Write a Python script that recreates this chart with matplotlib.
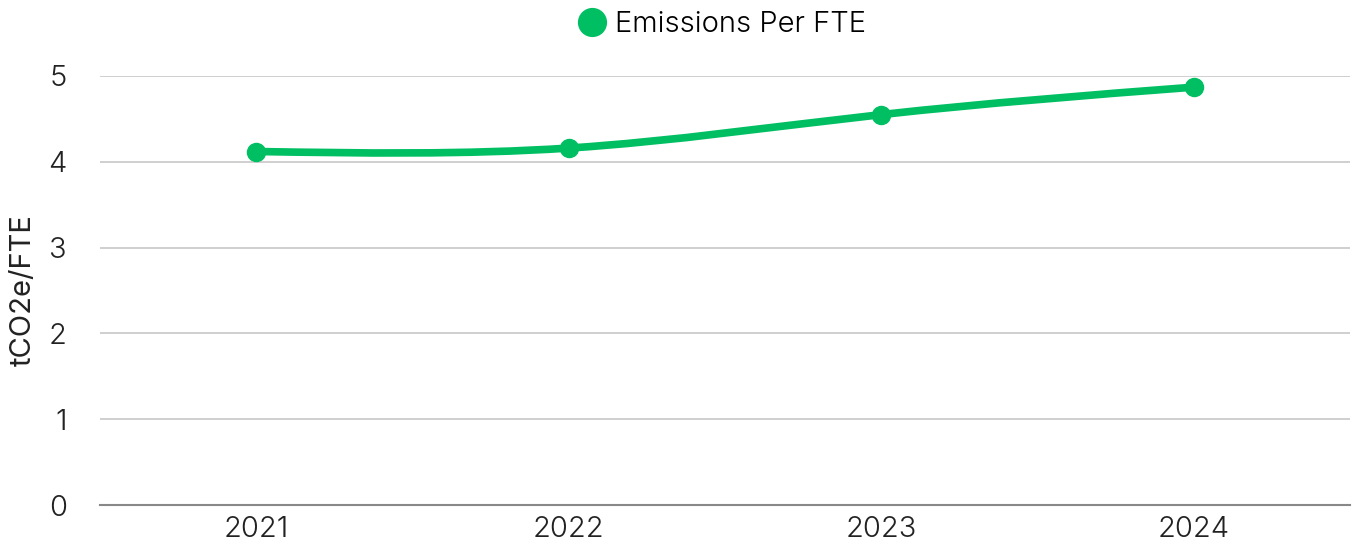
import matplotlib.pyplot as plt
import numpy as np
from matplotlib.path import Path
from matplotlib.patches import PathPatch
from matplotlib.lines import Line2D

years = ['2021', '2022', '2023', '2024']
emissions_per_fte = [4.12, 4.16, 4.55, 4.87]
y_ticks = [0, 1, 2, 3, 4, 5]

green = '#00BF63'
plt.rcParams['font.family'] = ['Inter', 'DejaVu Sans']
plt.rcParams['font.weight'] = 300

fig = plt.figure(figsize=(13.62, 5.49), dpi=100)
ax = fig.add_axes([100/1362, 44/549, 1250/1362, 429/549])

x = np.arange(len(years), dtype=float)
y = np.array(emissions_per_fte)

# natural cubic spline slopes -> bezier segments for a smooth line
n = len(x)
A = np.zeros((n, n))
r = np.zeros(n)
A[0, 0] = A[-1, -1] = 1
for i in range(1, n - 1):
    A[i, i - 1], A[i, i], A[i, i + 1] = 1, 4, 1
    r[i] = 6 * (y[i - 1] - 2 * y[i] + y[i + 1])
M = np.linalg.solve(A, r)
slopes = np.zeros(n)
for i in range(n - 1):
    slopes[i] = (y[i + 1] - y[i]) - (2 * M[i] + M[i + 1]) / 6
slopes[-1] = (y[-1] - y[-2]) + (M[-2] + 2 * M[-1]) / 6

verts = [(x[0], y[0])]
codes = [Path.MOVETO]
for i in range(n - 1):
    verts += [(x[i] + 1/3, y[i] + slopes[i] / 3),
              (x[i + 1] - 1/3, y[i + 1] - slopes[i + 1] / 3),
              (x[i + 1], y[i + 1])]
    codes += [Path.CURVE4] * 3
ax.add_patch(PathPatch(Path(verts, codes), facecolor='none', edgecolor=green,
                       lw=5.5, capstyle='round', zorder=3))
ax.plot(x, y, 'o', color=green, markersize=13, zorder=4)

ax.set_xlim(-0.5, 3.5)
ax.set_ylim(0, 5)
ax.set_xticks(x)
ax.set_xticklabels(years)
ax.set_yticks(y_ticks)
ax.tick_params(axis='both', length=0, labelsize=21, colors='#222222')
ax.tick_params(axis='y', pad=24)
ax.tick_params(axis='x', pad=8)
ax.grid(axis='y', color='#cccccc', lw=1.3)
ax.set_axisbelow(True)
for s in ['top', 'right', 'left']:
    ax.spines[s].set_visible(False)
ax.spines['bottom'].set_color('#888888')
ax.spines['bottom'].set_linewidth(1.5)
ax.set_ylabel('tCO2e/FTE', fontsize=21, color='#222222', labelpad=8)

handle = Line2D([], [], marker='o', color='none', markerfacecolor=green,
                markeredgecolor=green, markersize=20)
fig.legend([handle], ['Emissions Per FTE'], loc='center', bbox_to_anchor=(720/1362, 1 - 25/549),
           frameon=False, fontsize=21, handletextpad=0.2, handlelength=1.2)

fig.savefig('out.png', dpi=100)
